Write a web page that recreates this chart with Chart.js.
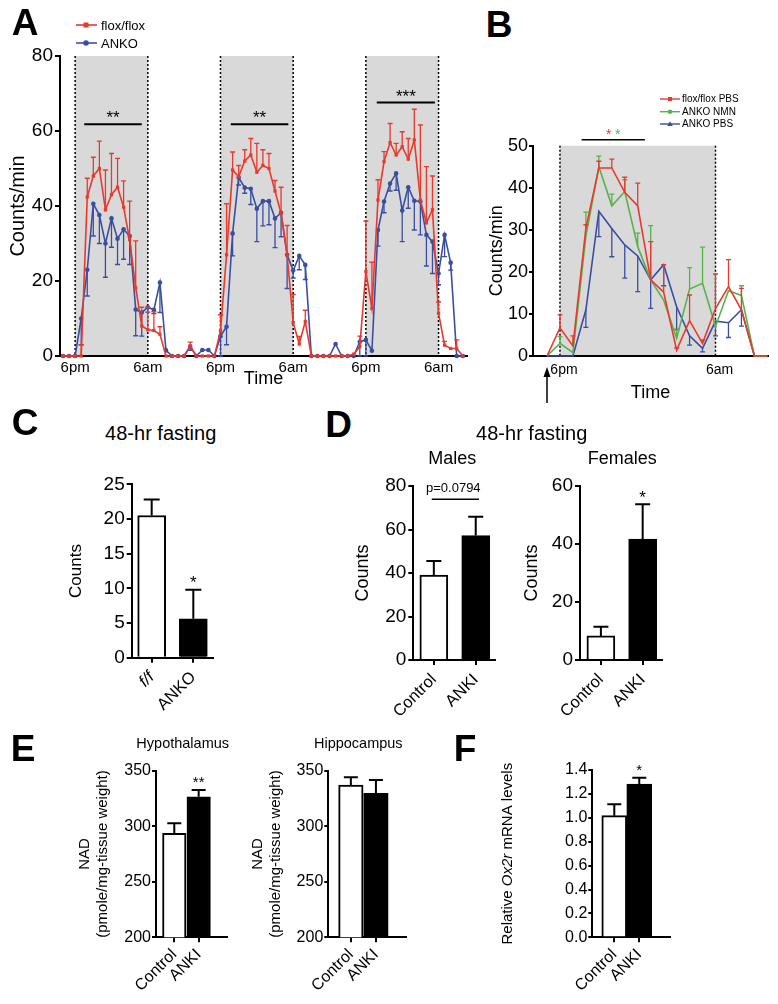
<!DOCTYPE html>
<html>
<head>
<meta charset="utf-8">
<script src="https://cdn.jsdelivr.net/npm/chart.js@4.4.1/dist/chart.umd.min.js"></script>
<style>
html,body{margin:0;padding:0;background:#fff}
body{position:relative;width:778px;height:1004px;overflow:hidden;font-family:'Liberation Sans',Arial,Helvetica,sans-serif;color:#000}
canvas{position:absolute}
.c{position:absolute;transform:translate(-50%,-50%);white-space:nowrap;line-height:1}
.l{position:absolute;transform:translateY(-50%);white-space:nowrap;line-height:1}
.P{font-weight:bold;font-size:37px}
svg{position:absolute}
</style>
</head>
<body>
<canvas id="cA" width="480" height="360" style="left:0;top:40px;width:480px;height:360px"></canvas>
<canvas id="cB" width="308" height="310" style="left:470px;top:100px;width:308px;height:310px"></canvas>
<canvas id="cC" width="170" height="270" style="left:60px;top:465px;width:170px;height:270px"></canvas>
<canvas id="cDm" width="170" height="270" style="left:340px;top:465px;width:170px;height:270px"></canvas>
<canvas id="cDf" width="170" height="270" style="left:510px;top:465px;width:170px;height:270px"></canvas>
<canvas id="cEh" width="170" height="254" style="left:70px;top:750px;width:170px;height:254px"></canvas>
<canvas id="cEp" width="180" height="254" style="left:240px;top:750px;width:180px;height:254px"></canvas>
<canvas id="cF" width="190" height="254" style="left:500px;top:750px;width:190px;height:254px"></canvas>

<div class="c P" style="left:25px;top:21.5px">A</div>
<div class="c P" style="left:499px;top:23.5px">B</div>
<div class="c P" style="left:25px;top:421.5px">C</div>
<div class="c P" style="left:338.5px;top:424px">D</div>
<div class="c P" style="left:23px;top:747.5px">E</div>
<div class="c P" style="left:465px;top:747.5px">F</div>

<svg style="left:74px;top:17px" width="26" height="34">
  <line x1="2" y1="8" x2="23" y2="8" stroke="#e8392d" stroke-width="1.6"/>
  <rect x="9.5" y="5.5" width="5" height="5" fill="#e8392d"/>
  <line x1="2" y1="26" x2="23" y2="26" stroke="#3a4ea1" stroke-width="1.6"/>
  <circle cx="12" cy="26" r="2.8" fill="#3a4ea1"/>
</svg>
<div class="l" style="left:101px;top:25px;font-size:13px">flox/flox</div>
<div class="l" style="left:101px;top:43px;font-size:13px">ANKO</div>

<svg style="left:658px;top:92px" width="24" height="40">
  <line x1="2" y1="7" x2="22" y2="7" stroke="#e8392d" stroke-width="1.4"/>
  <rect x="10" y="5" width="4" height="4" fill="#e8392d"/>
  <line x1="2" y1="19.7" x2="22" y2="19.7" stroke="#56b447" stroke-width="1.4"/>
  <circle cx="12" cy="19.7" r="2.3" fill="#56b447"/>
  <line x1="2" y1="32" x2="22" y2="32" stroke="#3a4ea1" stroke-width="1.4"/>
  <polygon points="12,29.3 14.8,34 9.2,34" fill="#3a4ea1"/>
</svg>
<div class="l" style="left:682px;top:99px;font-size:10px">flox/flox PBS</div>
<div class="l" style="left:682px;top:111.7px;font-size:10px">ANKO NMN</div>
<div class="l" style="left:682px;top:124px;font-size:10px">ANKO PBS</div>

<div class="c" style="left:160.7px;top:433px;font-size:20px">48-hr fasting</div>
<div class="c" style="left:531.7px;top:433px;font-size:20px">48-hr fasting</div>
<div class="c" style="left:452.3px;top:458px;font-size:18px">Males</div>
<div class="c" style="left:622.3px;top:458px;font-size:18px">Females</div>
<div class="c" style="left:182.7px;top:743.3px;font-size:14.5px">Hypothalamus</div>
<div class="c" style="left:358.3px;top:743.3px;font-size:14.5px">Hippocampus</div>

<script>
const FONT = "'Liberation Sans', Arial, Helvetica, sans-serif";
Chart.defaults.font.family = FONT;
Chart.defaults.color = '#000';

const RED = '#e8392d', BLUE = '#3a4ea1', GREEN = '#56b447', SHADE = '#d9d9d9';

// ---------------- Panel A ----------------
const HOURS_A = [-2,-1,0,1,2,3,4,5,6,7,8,9,10,11,12,13,14,15,16,17,18,19,20,21,22,23,24,25,26,27,28,29,30,31,32,33,34,35,36,37,38,39,40,41,42,43,44,45,46,47,48,49,50,51,52,53,54,55,56,57,58,59,60,61,62,63,64];
const FLOX_A = [0,0,0,0, 42.4,48,50,39,43,45,39.7,31,18.2,8,7,6.8,5.8, 0,0,0,0,2.7,0,0,0,0, 6.7,27,49.6,47.8,52,53.6,49,50.8,50,44,38,27,8.9,3.2,9.2, 0,0,0,0,0,0,0,0.5,2.5, 22.5,12.7,41.6,51.8,56.9,53.6,55.8,52.5,57.6,41.6,35.5,39,11.4,2.9,2,2,0];
const FLOX_A_SEM = [0,0,0,3, 5,5,7.3,10.6,11,7.7,7,10.3,12.5,5,6,5,2, 0,0,0,0,1,0,0,0,0, 4.3,13.6,4.8,3,3,4.4,7.7,4.2,4,2.8,7,7.8,7.5,2,3, 0,0,0,0,0,0,0,0,2.8, 13.5,12.3,5.4,2.7,5.1,3.1,4,5.5,8.2,20,15,9,3,1,0,2.3,0];
const ANKO_A = [0,0,0,10, 23,40.6,37.6,30,36.7,31.3,33.8,32,12.4,11.6,13,12.3,19.6, 1.5,0,0,0,2.5,0,1.6,1.6,0, 5.3,7.8,32.7,47.6,44.9,44.6,39.3,41.3,41.3,36.7,38.2,27,22.8,26.7,24.3, 0,0,0,0,3.2,0,0,0,3.8, 4.3,1.4,33.6,41.2,46,48.7,38.8,45,41.4,41.2,32.3,30.5,22,32.3,24.9,0,0];
const ANKO_A_SEM = [0,0,0,7, 7,8.6,7.6,9,7.7,6.9,8,7.6,7,6.3,1.3,1,8, 0,0,0,0,1,0,0,0,0, 5.3,4.8,6,2,1.5,4.2,8.8,6.6,6.3,7.8,6.4,9,2,3.7,3.9, 0,0,0,0,0,0,0,0,3.8, 4.3,0,4.3,3,2,4.5,8.3,5.6,7.8,8.9,8.3,8.5,3,5.8,2,0,0];
const NIGHTS_A = [[0,12],[24,36],[48,60]];
const DOTTED_A = [0,12,24,36,48,60];
const TICKS_A = [0,12,24,36,48,60];
const TICK_LABELS_A = ['6pm','6am','6pm','6am','6pm','6am'];
const SIG_A = [
  {x1:1.5, x2:11, y:61.8, text:'**'},
  {x1:25.7, x2:35.2, y:61.8, text:'**'},
  {x1:49.8, x2:59.4, y:67.6, text:'***'}
];

// ---------------- Panel B ----------------
const HOURS_B = [-1,0,1,2,3,4,5,6,7,8,9,10,11,12,13,14,15,16];
const FLOX_PBS_B = [0,6.7,2.4,30.4,44.7,44.7,38.9,35.7,18.1,15.2,1.4,8.4,3,11.3,16.5,11,0,0];
const FLOX_PBS_B_SEM = [0,3.1,2.4,0.8,1.6,2.1,3.6,5.4,9.1,6.5,0.5,6.1,0.8,8.2,6.4,5.1,0,0];
const ANKO_NMN_B = [0,3,0.8,28.5,45,35.7,39.1,26,18.1,13.3,4.2,15.9,17.3,7,15.5,14.4,0,0];
const ANKO_NMN_B_SEM = [0,1.6,0,5.7,2.5,2.8,2.8,3.2,12.9,0,2,5.1,8.6,0,0,2.3,0,0];
const ANKO_PBS_B = [0,0,0,11,34.4,30.3,26.4,23.8,18.1,21.7,11.7,4.8,1.8,8.3,7.9,11,0,0];
const ANKO_PBS_B_SEM = [0,0,0,4.2,6,6.7,7.9,8.5,6.8,5,5.4,2.2,0.8,3.5,3.5,3.9,0,0];
const NIGHTS_B = [[0,12]];
const DOTTED_B = [0,12];
const TICKS_B = [0,12];
const TICK_LABELS_B = ['6pm','6am'];
const SIG_B = {x1:1.67, x2:6.55, y:51.4};
const ARROW_B = -1;

// ---------------- Bar panels ----------------
const CATS_C = ['f/f','ANKO'];
const ITALIC_C = [true,false];
const VAL_C = [20.5, 5.6];
const SEM_C = [2.3, 4.2];

const CATS_D = ['Control','ANKI'];
const VAL_D_MALE = [39.1, 57.2];
const SEM_D_MALE = [6.4, 8.7];
const VAL_D_FEMALE = [8.3, 41.7];
const SEM_D_FEMALE = [3.2, 12];

const CATS_E = ['Control','ANKI'];
const VAL_E_HYPO = [293.5, 326.5];
const SEM_E_HYPO = [9.1, 6.1];
const VAL_E_HIPPO = [337, 329.6];
const SEM_E_HIPPO = [7, 12];

const CATS_F = ['Control','ANKI'];
const VAL_F = [1.018, 1.283];
const SEM_F = [0.095, 0.053];
const TITLE_F = [['Relative ', 'normal'], ['Ox2r', 'italic'], [' mRNA levels', 'normal']];

// ---------------- helpers ----------------
const errPlugin = {
  id:'errPlugin',
  afterDatasetDraw(chart, args){
    const ds = chart.data.datasets[args.index];
    if(!ds.errs) return;
    const ys = chart.scales.y, ctx = chart.ctx;
    ctx.save();
    ctx.strokeStyle = ds.errColor || ds.borderColor;
    ctx.lineWidth = ds.errWidth || 1.3;
    const cap = ds.errCap || 2.5;
    args.meta.data.forEach((el,i)=>{
      const e = ds.errs[i]; if(!e) return;
      const v = ds.data[i].y;
      const y1 = ys.getPixelForValue(v), y2 = ys.getPixelForValue(v + (ds.errDir||1)*e);
      const x = el.x;
      ctx.beginPath(); ctx.moveTo(x,y1); ctx.lineTo(x,y2);
      ctx.moveTo(x-cap,y2); ctx.lineTo(x+cap,y2); ctx.stroke();
    });
    ctx.restore();
  }
};

function nightPlugin(nights, dotted){
  return {id:'night', beforeDraw(chart){
    const {ctx, chartArea:{top,bottom}, scales:{x}} = chart;
    ctx.save();
    ctx.fillStyle = SHADE;
    nights.forEach(([a,b])=>{
      const xa = x.getPixelForValue(a), xb = x.getPixelForValue(b);
      ctx.fillRect(xa, top, xb-xa, bottom-top);
    });
    ctx.strokeStyle = '#000'; ctx.lineWidth = 1.5; ctx.setLineDash([2,2]);
    dotted.forEach(h=>{
      const px = x.getPixelForValue(h);
      ctx.beginPath(); ctx.moveTo(px,top); ctx.lineTo(px,bottom); ctx.stroke();
    });
    ctx.restore();
  }};
}

function yAxis(o){
  return {
    min:o.min, max:o.max, bounds:'data',
    ticks:{stepSize:o.step, font:{size:o.size}, padding:o.pad, color:'#000', callback:o.fmt || (v=>v)},
    grid:{drawOnChartArea:false, drawTicks:true, tickLength:o.tick, color:'#000', lineWidth:2},
    border:{color:'#000', width:2},
    title: o.title ? {display:true, text:o.title, font:{size:o.titleSize}, padding:{top:o.titlePad,bottom:0}, color:'#000'} : {display:false},
    afterFit: s => { s.width = o.width; }
  };
}

function marksPlugin(marks){
  return {id:'marks', afterDatasetsDraw(chart){
    const {ctx, scales:{x,y}} = chart;
    ctx.save();
    (marks||[]).forEach(m=>{
      ctx.fillStyle = m.color || '#000';
      ctx.strokeStyle = '#000';
      if (m.type === 'line'){
        ctx.lineWidth = m.w || 1.5;
        const py = y.getPixelForValue(m.y);
        ctx.beginPath(); ctx.moveTo(x.getPixelForValue(m.x1),py); ctx.lineTo(x.getPixelForValue(m.x2),py); ctx.stroke();
      } else if (m.type === 'star'){
        ctx.font = m.size + 'px ' + FONT; ctx.textAlign = 'center'; ctx.textBaseline = 'alphabetic';
        ctx.fillText(m.text, x.getPixelForValue(m.x), y.getPixelForValue(m.y) + 0.57*m.size);
      } else if (m.type === 'text'){
        ctx.font = m.size + 'px ' + FONT; ctx.textAlign = 'center'; ctx.textBaseline = 'middle';
        ctx.fillText(m.text, x.getPixelForValue(m.x), y.getPixelForValue(m.y));
      }
    });
    ctx.restore();
  }};
}

function makeBar(id, cats, vals, errs, o){
  const data = cats.map((c,i)=>({x:i, y:vals[i]}));
  return new Chart(document.getElementById(id), {
    type:'bar',
    data:{datasets:[{data, backgroundColor:['#ffffff','#000000'], borderColor:'#000', borderWidth:2,
      borderSkipped:'start', barThickness:o.thick, errs, errDir:1, errColor:'#000', errWidth:2, errCap:o.cap}]},
    options:{
      responsive:false, animation:false, events:[],
      layout:{padding:o.pad},
      scales:{
        x:{type:'linear', min:o.xmin, max:o.xmax, bounds:'data', offset:false,
          afterBuildTicks:s=>{ s.ticks = cats.map((c,i)=>({value:i})); },
          ticks:{autoSkip:false, minRotation:45, maxRotation:45, padding:o.xPad || 3,
            font:(ctx)=>({size:o.xSize, style:(o.italic && o.italic[ctx.index]) ? 'italic' : 'normal'}),
            callback:(v,i)=>cats[i]},
          grid:{display:true, drawOnChartArea:false, drawTicks:true, tickLength:5, color:'#000', lineWidth:2, offset:false},
          border:{color:'#000', width:2},
          afterFit:s=>{ s.height = o.xH; }},
        y: yAxis(o.y)
      },
      plugins:{legend:{display:false}, tooltip:{enabled:false}}
    },
    plugins:[errPlugin, marksPlugin(o.marks)].concat(o.extra || [])
  });
}

// ---------------- Chart A ----------------
new Chart(document.getElementById('cA'), {
  type:'line',
  data:{datasets:[
    {label:'flox/flox', data:HOURS_A.map((h,i)=>({x:h, y:FLOX_A[i]})), borderColor:RED, backgroundColor:RED,
     borderWidth:1.6, pointStyle:'rect', pointRadius:2.3, pointBorderWidth:0, clip:6,
     errs:FLOX_A_SEM, errDir:1, errCap:2.5, errWidth:1.3},
    {label:'ANKO', data:HOURS_A.map((h,i)=>({x:h, y:ANKO_A[i]})), borderColor:BLUE, backgroundColor:BLUE,
     borderWidth:1.6, pointStyle:'circle', pointRadius:2.3, pointBorderWidth:0, clip:6,
     errs:ANKO_A_SEM, errDir:-1, errCap:2.5, errWidth:1.3}
  ]},
  options:{
    responsive:false, animation:false, events:[],
    layout:{padding:{left:0, top:16, right:13, bottom:10}},
    scales:{
      x:{type:'linear', min:-2.5, max:64.7, bounds:'data',
        afterBuildTicks:s=>{ s.ticks = TICKS_A.map(v=>({value:v})); },
        ticks:{autoSkip:false, minRotation:0, maxRotation:0, padding:3, font:{size:15}, callback:(v,i)=>TICK_LABELS_A[i]},
        grid:{display:false, drawTicks:false}, border:{color:'#000', width:2},
        title:{display:true, text:'Time', font:{size:18}, padding:{top:0,bottom:0}},
        afterFit:s=>{ s.height = 34; }},
      y: yAxis({min:0, max:80, step:20, width:60, size:19, tick:5, pad:2, title:'Counts/min', titleSize:20, titlePad:6})
    },
    plugins:{legend:{display:false}, tooltip:{enabled:false}}
  },
  plugins:[nightPlugin(NIGHTS_A, DOTTED_A), errPlugin, {
    id:'sigA', afterDatasetsDraw(chart){
      const {ctx, scales:{x,y}} = chart;
      ctx.save(); ctx.strokeStyle='#000'; ctx.fillStyle='#000'; ctx.lineWidth=1.8;
      ctx.font = '17px ' + FONT; ctx.textAlign='center'; ctx.textBaseline='alphabetic';
      SIG_A.forEach(s=>{
        const py = y.getPixelForValue(s.y), xa = x.getPixelForValue(s.x1), xb = x.getPixelForValue(s.x2);
        ctx.beginPath(); ctx.moveTo(xa,py); ctx.lineTo(xb,py); ctx.stroke();
        ctx.fillText(s.text, (xa+xb)/2, py-1);
      });
      ctx.restore();
    }}]
});

// ---------------- Chart B ----------------
new Chart(document.getElementById('cB'), {
  type:'line',
  data:{datasets:[
    {label:'flox/flox PBS', data:HOURS_B.map((h,i)=>({x:h, y:FLOX_PBS_B[i]})), borderColor:RED, backgroundColor:RED,
     borderWidth:1.6, pointRadius:0, clip:6, errs:FLOX_PBS_B_SEM, errDir:1, errCap:2.5, errWidth:1.3},
    {label:'ANKO NMN', data:HOURS_B.map((h,i)=>({x:h, y:ANKO_NMN_B[i]})), borderColor:GREEN, backgroundColor:GREEN,
     borderWidth:1.6, pointRadius:0, clip:6, errs:ANKO_NMN_B_SEM, errDir:1, errCap:2.5, errWidth:1.3},
    {label:'ANKO PBS', data:HOURS_B.map((h,i)=>({x:h, y:ANKO_PBS_B[i]})), borderColor:BLUE, backgroundColor:BLUE,
     borderWidth:1.6, pointRadius:0, clip:6, errs:ANKO_PBS_B_SEM, errDir:-1, errCap:2.5, errWidth:1.3}
  ]},
  options:{
    responsive:false, animation:false, events:[],
    layout:{padding:{left:0, top:45.7, right:10, bottom:6.2}},
    scales:{
      x:{type:'linear', min:-2.08, max:16.05, bounds:'data',
        afterBuildTicks:s=>{ s.ticks = TICKS_B.map(v=>({value:v})); },
        ticks:{autoSkip:false, minRotation:0, maxRotation:0, padding:6, labelOffset:4, font:{size:14}, callback:(v,i)=>TICK_LABELS_B[i]},
        grid:{display:false, drawTicks:false}, border:{color:'#000', width:2},
        title:{display:true, text:'Time', font:{size:18}, padding:{top:0,bottom:0}},
        afterFit:s=>{ s.height = 47.8; }},
      y: yAxis({min:0, max:50, step:10, width:63, size:18, tick:4, pad:1, title:'Counts/min', titleSize:18, titlePad:15.9})
    },
    plugins:{legend:{display:false}, tooltip:{enabled:false}}
  },
  plugins:[nightPlugin(NIGHTS_B, DOTTED_B), errPlugin, {
    id:'sigB', afterDatasetsDraw(chart){
      const {ctx, scales:{x,y}, chartArea} = chart;
      ctx.save();
      const py = y.getPixelForValue(SIG_B.y), xa = x.getPixelForValue(SIG_B.x1), xb = x.getPixelForValue(SIG_B.x2);
      ctx.strokeStyle='#000'; ctx.lineWidth=1.6;
      ctx.beginPath(); ctx.moveTo(xa,py); ctx.lineTo(xb,py); ctx.stroke();
      ctx.font = '14px ' + FONT; ctx.textAlign='center'; ctx.textBaseline='alphabetic';
      const mid = (xa+xb)/2;
      ctx.fillStyle = RED; ctx.fillText('*', mid-4.5, py-1);
      ctx.fillStyle = GREEN; ctx.fillText('*', mid+4.5, py-1);
      // arrow marking injection time
      const ax = x.getPixelForValue(ARROW_B);
      const tip = chartArea.bottom + 11, tail = chartArea.bottom + 47;
      ctx.strokeStyle='#000'; ctx.fillStyle='#000'; ctx.lineWidth=1.5;
      ctx.beginPath(); ctx.moveTo(ax, tail); ctx.lineTo(ax, tip+6); ctx.stroke();
      ctx.beginPath(); ctx.moveTo(ax, tip); ctx.lineTo(ax-3.5, tip+10); ctx.lineTo(ax+3.5, tip+10); ctx.closePath(); ctx.fill();
      ctx.restore();
    }}]
});

// ---------------- Chart C ----------------
makeBar('cC', CATS_C, VAL_C, SEM_C, {
  pad:{left:0, top:19.3, right:16.7, bottom:2.3}, xmin:-0.48, xmax:1.48, thick:28, cap:8, xSize:16.5, xPad:5, xH:75, italic:ITALIC_C,
  y:{min:0, max:25, step:5, width:71.7, size:19, tick:5, pad:2, title:'Counts', titleSize:17, titlePad:6.5},
  marks:[{type:'star', x:1, y:11.5, text:'*', size:17}]
});

// ---------------- Chart D ----------------
makeBar('cDm', CATS_D, VAL_D_MALE, SEM_D_MALE, {
  pad:{left:0, top:21, right:15, bottom:2}, xmin:-0.49, xmax:1.46, thick:28, cap:7.5, xSize:16.5, xPad:5, xH:73,
  y:{min:0, max:80, step:20, width:73.3, size:19, tick:5, pad:2, title:'Counts', titleSize:18, titlePad:12.5},
  marks:[{type:'line', x1:-0.05, x2:1.078, y:73.9, w:1.3}, {type:'text', x:0.465, y:79, text:'p=0.0794', size:13}]
});
makeBar('cDf', CATS_D, VAL_D_FEMALE, SEM_D_FEMALE, {
  pad:{left:0, top:21, right:17.7, bottom:2}, xmin:-0.5, xmax:1.47, thick:28, cap:7.5, xSize:16.5, xPad:5, xH:73,
  y:{min:0, max:60, step:20, width:70, size:19, tick:5, pad:2, title:'Counts', titleSize:18, titlePad:10.9},
  marks:[{type:'star', x:1, y:57.6, text:'*', size:17}]
});

// ---------------- Chart E ----------------
makeBar('cEh', CATS_E, VAL_E_HYPO, SEM_E_HYPO, {
  pad:{left:0, top:20.7, right:13.3, bottom:6.7}, xmin:-0.75, xmax:2.15, thick:23.5, cap:7, xSize:16, xH:60,
  y:{min:200, max:350, step:50, width:86, size:16, tick:4, pad:1, title:['NAD','(pmole/mg-tissue weight)'], titleSize:15, titlePad:6},
  marks:[{type:'star', x:1, y:343.4, text:'**', size:15}]
});
makeBar('cEp', CATS_E, VAL_E_HIPPO, SEM_E_HIPPO, {
  pad:{left:0, top:20.7, right:14, bottom:6.7}, xmin:-0.9, xmax:2.2, thick:24.5, cap:7, xSize:16, xH:60,
  y:{min:200, max:350, step:50, width:88.3, size:16, tick:4, pad:1, title:['NAD','(pmole/mg-tissue weight)'], titleSize:15, titlePad:9.3},
  marks:[]
});

// ---------------- Chart F ----------------
const titleFPlugin = {id:'titleF', afterDraw(chart){
  const {ctx, chartArea:{top,bottom}, scales:{y}} = chart;
  ctx.save();
  ctx.fillStyle = '#000';
  ctx.textBaseline = 'middle'; ctx.textAlign = 'left';
  const size = 15;
  const widths = TITLE_F.map(([t,st])=>{ ctx.font = st + ' ' + size + 'px ' + FONT; return ctx.measureText(t).width; });
  const total = widths.reduce((a,b)=>a+b,0);
  ctx.translate(y.left + 8.3, (top+bottom)/2);
  ctx.rotate(-Math.PI/2);
  let cx = -total/2;
  TITLE_F.forEach(([t,st],i)=>{ ctx.font = st + ' ' + size + 'px ' + FONT; ctx.fillText(t, cx, 0); cx += widths[i]; });
  ctx.restore();
}};
makeBar('cF', CATS_F, VAL_F, SEM_F, {
  pad:{left:0, top:20, right:20, bottom:6.7}, xmin:-0.88, xmax:2.23, thick:25, cap:7, xSize:16, xH:60,
  y:{min:0, max:1.4, step:0.2, width:92.3, size:16, tick:4, pad:1, fmt:v=>v.toFixed(1)},
  marks:[{type:'star', x:1, y:1.43, text:'*', size:15}],
  extra:[titleFPlugin]
});
</script>
</body>
</html>
